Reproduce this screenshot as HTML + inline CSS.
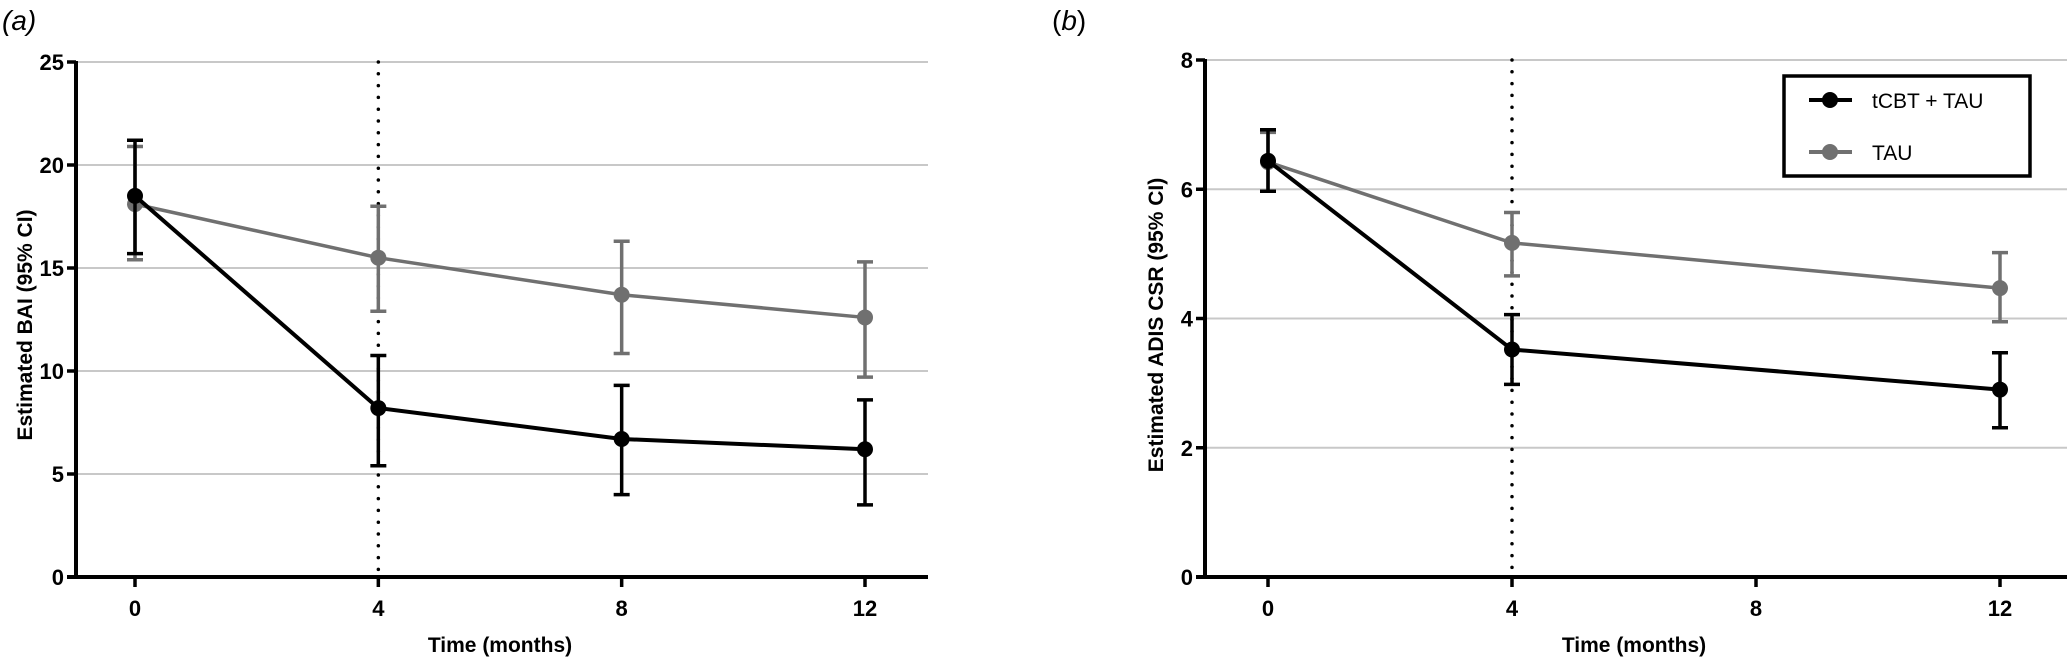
<!DOCTYPE html>
<html><head><meta charset="utf-8"><style>
html,body{margin:0;padding:0;background:#fff;}
svg{display:block;font-family:"Liberation Sans",Arial,sans-serif;}
</style></head><body>
<svg id="fig" width="2067" height="661" viewBox="0 0 2067 661" xmlns="http://www.w3.org/2000/svg">
<text x="2" y="30" font-size="28" font-style="italic">(<tspan font-style="italic">a</tspan>)</text>
<text x="1052" y="30" font-size="28">(<tspan font-style="italic">b</tspan>)</text>
<g id="pa"></g>
<g id="pb"></g>
</svg>
<script>
// Panel A data
const aMonths = [0, 4, 8, 12];
const aBlack = [18.5, 8.2, 6.7, 6.2];
const aBlackHi = [21.2, 10.75, 9.3, 8.6];
const aBlackLo = [15.7, 5.4, 4.0, 3.5];
const aGray = [18.1, 15.5, 13.7, 12.6];
const aGrayHi = [20.9, 18.0, 16.3, 15.3];
const aGrayLo = [15.4, 12.9, 10.85, 9.7];
const aYTicks = [0, 5, 10, 15, 20, 25];
const aXTicks = [0, 4, 8, 12];
// Panel B data
const bMonths = [0, 4, 12];
const bBlack = [6.44, 3.52, 2.9];
const bBlackHi = [6.92, 4.06, 3.47];
const bBlackLo = [5.97, 2.98, 2.31];
const bGray = [6.42, 5.17, 4.47];
const bGrayHi = [6.88, 5.64, 5.02];
const bGrayLo = [5.97, 4.66, 3.95];
const bYTicks = [0, 2, 4, 6, 8];
const bXTicks = [0, 4, 8, 12];
const legendLabels = ["tCBT + TAU", "TAU"];

const NS = "http://www.w3.org/2000/svg";
function mk(parent, tag, attrs, text) {
  const e = document.createElementNS(NS, tag);
  for (const k in attrs) e.setAttribute(k, attrs[k]);
  if (text !== undefined) e.textContent = text;
  parent.appendChild(e);
  return e;
}

function panel(g, cfg) {
  const x = m => cfg.x0 + (m / 12) * (cfg.x12 - cfg.x0);
  const y = v => cfg.y0 - (v / cfg.yMax) * (cfg.y0 - cfg.yTop);
  // gridlines
  cfg.yTicks.forEach(t => {
    if (t === 0) return;
    const l = mk(g, "line", {x1: cfg.axisX, x2: cfg.right, y1: y(t), y2: y(t), stroke: "#c8c8c8", "stroke-width": 2});
    
    
  });
  // dotted line at month 4
  const d = mk(g, "line", {x1: x(4), x2: x(4), y1: y(cfg.yMax), y2: y(0), stroke: "#000", "stroke-width": 3.5, "stroke-dasharray": "0 11.8", "stroke-linecap": "round"});
  
  
  // axes
  const ya = mk(g, "line", {x1: cfg.axisX, x2: cfg.axisX, y1: y(cfg.yMax) - 1, y2: y(0) + 2, stroke: "#000", "stroke-width": 4});
  
  
  const xa = mk(g, "line", {x1: cfg.axisX - 9, x2: cfg.right, y1: y(0), y2: y(0), stroke: "#000", "stroke-width": 4});
  
  
  cfg.yTicks.forEach(t => {
    mk(g, "line", {x1: cfg.axisX - 9, x2: cfg.axisX, y1: y(t), y2: y(t), stroke: "#000", "stroke-width": 3.5});
    const lb = mk(g, "text", {x: cfg.axisX - 12, y: y(t) + 8, "font-size": 22, "font-weight": "bold", "text-anchor": "end"}, String(t));
    
    
  });
  cfg.xTicks.forEach(t => {
    mk(g, "line", {x1: x(t), x2: x(t), y1: y(0), y2: y(0) + 10, stroke: "#000", "stroke-width": 3.5});
    const lb = mk(g, "text", {x: x(t), y: 616, "font-size": 22, "font-weight": "bold", "text-anchor": "middle"}, String(t));
    
    
  });
  const xt = mk(g, "text", {x: cfg.xTitleX, y: 652, "font-size": 21, "font-weight": "bold", "text-anchor": "middle"}, "Time (months)");
  
  
  const yt = mk(g, "text", {x: 0, y: 0, "font-size": 21, "font-weight": "bold", "text-anchor": "middle", transform: `translate(${cfg.yTitleX},325) rotate(-90)`}, cfg.yTitle);
  
  

  function series(months, vals, hi, lo, color, w, name) {
    const s = mk(g, "g", {});
    
    
    months.forEach((m, i) => {
      const eb = mk(s, "path", {d: `M${x(m)},${y(lo[i])}V${y(hi[i])}M${x(m)-8},${y(hi[i])}h16M${x(m)-8},${y(lo[i])}h16`, stroke: color, "stroke-width": 3.5, fill: "none"});
      
      
    });
    const ln = mk(s, "polyline", {points: months.map((m, i) => x(m) + "," + y(vals[i])).join(" "), stroke: color, "stroke-width": w, fill: "none"});
    
    
    months.forEach((m, i) => {
      const c = mk(s, "circle", {cx: x(m), cy: y(vals[i]), r: 8, fill: color});
      
      
    });
  }
  series(cfg.months, cfg.gray, cfg.grayHi, cfg.grayLo, "#707070", 3.5, "tau-series");
  series(cfg.months, cfg.black, cfg.blackHi, cfg.blackLo, "#000", 4, "tcbt-series");
}

panel(document.getElementById("pa"), {
  x0: 135, x12: 865, axisX: 76, right: 928, y0: 577, yTop: 62, yMax: 25,
  yTicks: aYTicks, xTicks: aXTicks, months: aMonths,
  black: aBlack, blackHi: aBlackHi, blackLo: aBlackLo,
  gray: aGray, grayHi: aGrayHi, grayLo: aGrayLo,
  xTitleX: 500, yTitleX: 32, yTitle: "Estimated BAI (95% CI)"
});
panel(document.getElementById("pb"), {
  x0: 1268, x12: 2000, axisX: 1205, right: 2067, y0: 577, yTop: 60, yMax: 8,
  yTicks: bYTicks, xTicks: bXTicks, months: bMonths,
  black: bBlack, blackHi: bBlackHi, blackLo: bBlackLo,
  gray: bGray, grayHi: bGrayHi, grayLo: bGrayLo,
  xTitleX: 1634, yTitleX: 1163, yTitle: "Estimated ADIS CSR (95% CI)"
});

// legend
const svg = document.getElementById("fig");
const lg = mk(svg, "g", {});


mk(lg, "rect", {x: 1784, y: 76, width: 246, height: 100, fill: "#fff", stroke: "#000", "stroke-width": 3.5});
const legColors = ["#000", "#707070"];
legendLabels.forEach((lab, i) => {
  const ey = 100 + i * 52;
  const e = mk(lg, "g", {});
  
  
  mk(e, "line", {x1: 1809, x2: 1852, y1: ey, y2: ey, stroke: legColors[i], "stroke-width": 4});
  mk(e, "circle", {cx: 1830, cy: ey, r: 8, fill: legColors[i]});
  mk(e, "text", {x: 1872, y: ey + 8, "font-size": 21}, lab);
});
</script>
</body></html>
